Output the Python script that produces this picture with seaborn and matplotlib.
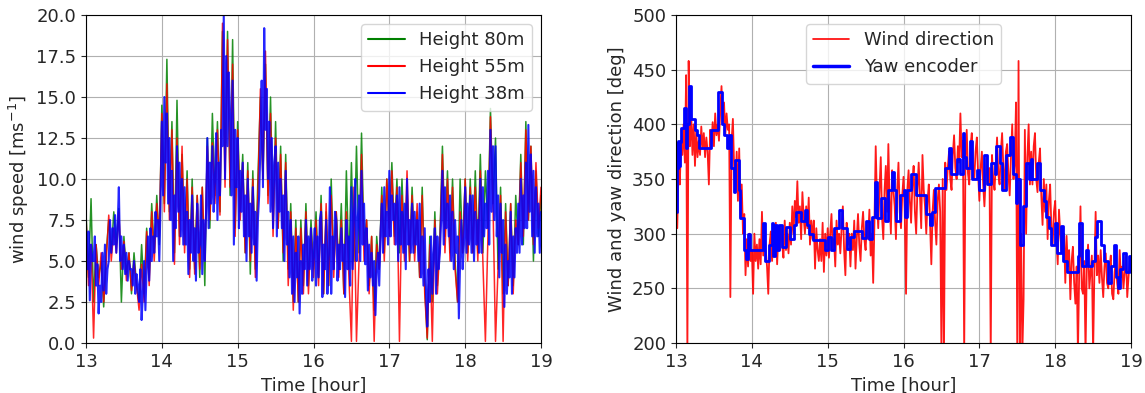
import numpy as np
import pandas as pd
import matplotlib
matplotlib.use("Agg")
import matplotlib.pyplot as plt
import seaborn as sns

# ---------------- data ----------------
# wind speed at 38 m, every minute from 13:00 to 19:00 (361 samples)
speed_38m = [
    7.0, 4.5, 6.8, 2.6, 6.0, 5.0,   5.0, 6.5, 3.5, 4.8, 1.8, 3.5,
    2.5, 5.5, 3.2, 6.0, 3.0, 4.5,   5.0, 7.5, 5.5, 7.0, 6.0, 7.8,
    5.5, 7.0, 9.5, 5.0, 6.5, 4.5,   6.0, 4.2, 5.5, 3.8, 5.0, 4.5,
    4.5, 3.5, 5.0, 3.0, 4.2, 3.5,   2.5, 4.5, 1.4, 3.0, 5.0, 2.0,
    4.5, 6.5, 3.8, 7.0, 5.0, 6.5,   5.5, 8.0, 6.5, 7.5, 5.0, 8.5,
    13.5, 9.0, 15.0, 11.0, 14.0, 8.5, 12.5, 7.5, 10.5, 5.0, 9.0, 7.0,
    12.0, 8.0, 11.0, 6.5, 10.0, 6.0, 9.5, 6.0, 8.0, 4.2, 7.5, 5.5,
    9.0, 5.0, 7.0, 3.8, 8.5, 5.5,   6.0, 9.0, 4.2, 7.5, 5.0, 8.0,
    12.5, 7.0, 11.0, 8.5, 12.0, 8.0, 10.0, 12.8, 7.5, 11.0, 9.0, 13.0,
    12.0, 20.0, 10.0, 17.5, 12.0, 16.5, 14.0, 9.0, 16.0, 6.0, 13.0, 9.5,
    12.5, 7.0, 10.5, 8.0, 11.0, 6.5, 9.0, 5.0, 10.0, 6.5, 8.5, 5.5,
    9.5, 6.0, 8.0, 3.8, 7.5, 9.0,   12.0, 16.0, 9.5, 19.2, 13.0, 15.5,
    10.0, 13.5, 8.0, 12.5, 7.0, 11.0, 12.0, 6.5, 11.0, 8.0, 10.0, 7.0,
    9.0, 5.0, 10.5, 6.0, 8.0, 4.0,  7.5, 3.0, 6.5, 2.5, 5.5, 4.0,
    6.5, 1.8, 5.0, 3.0, 6.0, 4.5,   7.5, 3.5, 6.5, 4.5, 7.0, 3.8,
    5.5, 7.0, 3.5, 6.5, 4.0, 7.5,   8.0, 2.8, 6.0, 4.5, 7.5, 3.0,
    5.5, 9.5, 3.0, 6.5, 4.5, 8.0,   7.5, 3.8, 6.0, 4.5, 7.0, 5.0,
    6.0, 2.8, 7.5, 4.5, 6.5, 3.5,   9.5, 4.5, 8.0, 10.0, 5.0, 7.5,
    9.0, 5.0, 10.5, 6.0, 8.5, 4.8,  7.0, 3.2, 6.0, 4.0, 5.5, 3.5,
    5.0, 1.7, 4.5, 5.5, 3.5, 6.5,   8.5, 5.5, 9.5, 6.5, 8.0, 6.0,
    10.5, 6.5, 9.0, 7.5, 8.5, 6.0,  9.0, 5.0, 9.5, 6.0, 8.0, 5.5,
    8.5, 4.5, 10.0, 6.0, 7.5, 5.5,  8.5, 5.5, 8.0, 6.0, 7.5, 5.0,
    8.5, 4.0, 6.5, 3.5, 7.0, 3.2,   1.0, 4.5, 2.5, 6.5, 3.0, 5.5,
    7.0, 3.0, 6.5, 4.5, 5.5, 7.5,   10.5, 6.0, 9.5, 7.0, 8.5, 6.5,
    9.0, 5.0, 8.0, 4.5, 7.5, 5.5,   6.5, 1.5, 5.0, 7.5, 4.5, 6.0,
    9.5, 5.5, 8.5, 6.0, 9.0, 5.5,   9.0, 5.0, 8.0, 6.0, 7.5, 5.5,
    10.0, 5.5, 9.5, 6.5, 8.5, 7.0,  10.5, 6.0, 13.0, 8.0, 12.0, 7.5,
    12.0, 6.5, 9.0, 4.0, 8.5, 5.5,  7.5, 2.2, 6.0, 3.0, 5.0, 4.0,
    8.0, 3.0, 6.5, 4.0, 7.0, 5.5,   8.5, 5.5, 10.0, 6.0, 9.0, 7.0,
    11.0, 7.0, 13.3, 8.0, 11.5, 6.5, 10.5, 5.5, 9.5, 6.5, 8.5, 5.5,
    8.0,
]
# wind speed at 55 m and 80 m, every 2 minutes (181 samples)
speed_55m = [
    7.8, 3.5, 6.0, 0.3, 6.0, 3.5, 5.5, 2.5, 5.0, 7.8, 5.0, 7.0, 5.5, 8.0, 4.5,
    6.2, 3.8, 5.5, 3.2, 5.0, 3.5, 2.0, 4.8, 2.5, 6.8, 3.5, 8.0, 5.0, 8.5, 6.5,
    14.0, 8.0, 15.8, 7.5, 13.0, 4.8, 12.5, 6.0, 12.0, 5.5, 10.0, 4.0, 9.5, 4.2, 9.0,
    4.5, 9.5, 5.0, 12.0, 7.5, 12.2, 8.5, 13.0, 7.8, 19.5, 9.5, 18.5, 9.5, 17.0, 6.5,
    13.0, 7.5, 11.0, 5.5, 10.5, 5.0, 10.0, 4.0, 9.0, 15.5, 10.0, 17.8, 8.5, 14.0, 6.5,
    12.5, 7.0, 11.5, 5.5, 11.0, 3.5, 8.0, 2.0, 7.0, 2.5, 7.0, 3.0, 8.0, 3.0, 7.0,
    4.0, 7.5, 3.5, 8.5, 3.0, 8.5, 3.5, 9.0, 4.0, 8.0, 4.0, 7.5, 3.0, 8.0, 4.0,
    0.1, 9.5, 0.1, 5.0, 11.5, 5.0, 7.5, 3.0, 6.5, 0.1, 6.0, 4.5, 9.0, 5.0, 10.0,
    6.5, 10.5, 6.0, 9.5, 0.1, 9.0, 5.0, 10.5, 5.0, 9.0, 5.0, 8.5, 4.0, 9.0, 3.0,
    0.3, 6.0, 0.1, 7.5, 3.0, 6.0, 11.5, 5.5, 10.0, 5.0, 9.5, 4.5, 2.5, 8.0, 5.5,
    10.0, 5.0, 9.5, 5.5, 9.5, 5.0, 10.5, 5.0, 0.1, 6.5, 13.8, 8.5, 0.1, 4.5, 9.0,
    0.1, 8.0, 3.5, 8.5, 3.0, 7.5, 6.0, 11.0, 6.5, 13.0, 7.5, 12.0, 6.0, 11.0, 7.0,
    9.5,
]
speed_80m = [
    8.0, 4.0, 8.8, 2.5, 6.0, 4.0, 5.0, 2.2, 5.5, 7.5, 5.5, 8.0, 6.0, 8.2, 2.5,
    6.5, 4.2, 5.5, 3.0, 5.5, 3.5, 2.5, 6.0, 3.0, 7.0, 4.0, 8.5, 5.5, 9.0, 6.0,
    14.5, 8.5, 17.3, 8.0, 13.5, 5.5, 14.8, 6.5, 11.5, 6.0, 10.5, 4.5, 10.0, 4.5, 9.0,
    4.0, 9.5, 3.5, 12.5, 7.0, 14.0, 9.0, 13.5, 8.0, 19.0, 10.5, 19.0, 9.0, 18.5, 7.0,
    13.5, 8.0, 11.5, 5.5, 11.0, 4.2, 10.5, 4.5, 10.0, 15.0, 10.0, 17.0, 9.0, 15.0, 7.0,
    13.5, 7.0, 12.0, 5.0, 11.5, 4.5, 8.5, 2.5, 7.5, 2.5, 7.5, 3.5, 8.5, 3.5, 7.5,
    4.5, 8.0, 4.0, 9.0, 3.0, 8.0, 3.5, 10.0, 4.5, 8.0, 4.5, 8.5, 3.0, 10.5, 4.5,
    11.0, 5.0, 12.0, 5.5, 12.8, 6.0, 7.5, 3.5, 6.5, 2.0, 6.5, 4.5, 9.5, 5.5, 10.0,
    7.0, 11.0, 6.5, 10.0, 5.5, 10.0, 5.5, 9.5, 5.0, 9.5, 5.5, 8.0, 4.0, 9.5, 3.5,
    0.2, 6.5, 2.5, 8.0, 3.5, 6.5, 12.0, 6.5, 10.5, 5.5, 10.0, 5.0, 2.5, 10.0, 5.5,
    10.0, 5.5, 10.0, 5.5, 10.5, 5.5, 11.5, 5.5, 10.5, 7.0, 14.3, 8.5, 12.5, 4.5, 9.5,
    3.0, 8.5, 3.5, 8.5, 3.5, 9.0, 6.0, 11.5, 6.0, 13.5, 7.5, 12.0, 5.0, 10.5, 6.5,
    9.0,
]

# wind direction, every minute from 13:00 to 19:00 (361 samples)
wind_dir = [
    330, 305, 360, 345, 385, 372,   400, 365, 445, 190, 458, 380,
    410, 372, 400, 362, 395, 370,   385, 372, 398, 378, 392, 370,
    388, 375, 345, 395, 380, 402,   380, 410, 390, 400, 385, 412,
    435, 400, 420, 390, 410, 395,   400, 242, 385, 405, 360, 338,
    375, 330, 378, 315, 345, 300,   318, 262, 295, 270, 300, 275,
    285, 245, 300, 275, 290, 268,   295, 272, 320, 280, 305, 285,
    270, 245, 290, 302, 275, 295,   280, 310, 272, 300, 285, 306,
    290, 278, 312, 285, 300, 282,   310, 290, 325, 300, 330, 315,
    348, 310, 325, 295, 338, 315,   300, 325, 305, 333, 290, 312,
    295, 312, 268, 305, 285, 275,   295, 275, 310, 265, 300, 280,
    305, 278, 300, 318, 285, 295,   270, 312, 290, 300, 282, 305,
    325, 285, 262, 310, 290, 300,   270, 300, 285, 312, 268, 295,
    318, 290, 275, 305, 320, 295,   285, 310, 295, 322, 280, 300,
    255, 310, 380, 330, 305, 340,   370, 315, 295, 340, 362, 320,
    382, 330, 300, 358, 340, 325,   295, 340, 365, 320, 305, 335,
    352, 320, 245, 340, 358, 330,   310, 345, 362, 320, 300, 340,
    365, 335, 305, 372, 340, 325,   300, 330, 345, 310, 272, 320,
    340, 310, 290, 330, 345, 320,   190, 350, 190, 365, 340, 360,
    375, 350, 340, 372, 390, 360,   350, 380, 365, 410, 370, 385,
    190, 370, 395, 355, 345, 380,   392, 360, 350, 375, 388, 355,
    330, 360, 375, 345, 325, 350,   370, 345, 360, 190, 372, 350,
    340, 365, 388, 355, 345, 375,   392, 360, 340, 375, 382, 355,
    335, 370, 400, 350, 365, 420,   190, 458, 190, 300, 190, 240,
    395, 300, 370, 400, 345, 375,   345, 380, 392, 350, 338, 365,
    378, 335, 308, 350, 320, 345,   295, 330, 345, 305, 290, 320,
    330, 295, 272, 322, 300, 285,   285, 300, 255, 298, 270, 285,
    240, 275, 288, 255, 236, 270,   190, 265, 325, 250, 245, 275,
    190, 270, 290, 250, 265, 280,   190, 265, 320, 262, 280, 255,
    285, 260, 242, 270, 282, 255,   250, 270, 280, 245, 240, 265,
    275, 255, 245, 285, 260, 270,   250, 265, 280, 242, 260, 275,
    265,
]

# yaw encoder: step changes (hour, degrees)
yaw_time = [
    13.00, 13.01, 13.02, 13.03, 13.04, 13.05, 13.06, 13.10, 13.13, 13.15,
    13.17, 13.20, 13.25, 13.28, 13.30, 13.46, 13.56, 13.60, 13.63, 13.67,
    13.70, 13.72, 13.76, 13.78, 13.83, 13.85, 13.90, 13.92, 13.95, 13.98,
    14.15, 14.17, 14.22, 14.26, 14.28, 14.30, 14.33, 14.36, 14.40, 14.45,
    14.50, 14.55, 14.58, 14.65, 14.70, 14.73, 14.76, 14.80, 14.97, 15.00,
    15.05, 15.08, 15.15, 15.19, 15.25, 15.30, 15.35, 15.45, 15.50, 15.55,
    15.58, 15.62, 15.65, 15.70, 15.76, 15.80, 15.85, 15.88, 15.90, 15.95,
    16.00, 16.02, 16.05, 16.10, 16.17, 16.30, 16.35, 16.38, 16.42, 16.55,
    16.60, 16.62, 16.70, 16.75, 16.78, 16.80, 16.83, 16.88, 16.90, 16.97,
    17.00, 17.06, 17.10, 17.15, 17.20, 17.22, 17.27, 17.30, 17.35, 17.40,
    17.45, 17.48, 17.50, 17.54, 17.58, 17.62, 17.65, 17.68, 17.70, 17.76,
    17.80, 17.85, 17.88, 17.92, 17.95, 18.00, 18.03, 18.07, 18.10, 18.15,
    18.30, 18.32, 18.36, 18.40, 18.43, 18.48, 18.52, 18.55, 18.60, 18.65,
    18.70, 18.73, 18.77, 18.80, 18.83, 18.85, 18.90, 18.93, 18.97, 19.00,
]
yaw_deg = [
    320, 383, 360, 385, 362, 384, 397, 415, 378, 400,
    435, 405, 395, 390, 378, 395, 430, 400, 390, 378,
    390, 360, 338, 367, 340, 314, 285, 277, 300, 285,
    310, 275, 290, 310, 280, 308, 285, 308, 288, 306,
    295, 308, 320, 312, 322, 308, 300, 294, 285, 297,
    285, 305, 322, 305, 286, 297, 302, 296, 312, 295,
    315, 347, 314, 333, 312, 340, 356, 340, 312, 335,
    340, 315, 340, 355, 335, 318, 308, 320, 342, 360,
    378, 355, 368, 355, 392, 370, 360, 385, 350, 358,
    340, 372, 345, 365, 355, 380, 365, 340, 372, 388,
    355, 328, 350, 290, 325, 365, 350, 368, 350, 365,
    340, 330, 315, 305, 290, 310, 282, 307, 275, 265,
    280, 310, 270, 285, 270, 275, 297, 312, 290, 275,
    255, 270, 290, 260, 250, 268, 282, 265, 280, 265,
]

speed_labels = ["Height 80m", "Height 55m", "Height 38m"]
dir_labels = ["Wind direction", "Yaw encoder"]

# ---------------- plotting ----------------
sns.set_style("white")
plt.rcParams["font.family"] = ["DejaVu Sans"]
FS = 13

fig = plt.figure(figsize=(11.45, 3.93), dpi=100)
ax1 = fig.add_axes([0.0751, 0.1272, 0.3974, 0.8346])
ax2 = fig.add_axes([0.5904, 0.1272, 0.3974, 0.8346])

speed_series = [speed_80m, speed_55m, speed_38m]
speed_colors = ["#008000", "#ff0000", "#0000ff"]
speed_lw = [1.1, 1.1, 1.5]
for vals, col, lw, lab in zip(speed_series, speed_colors, speed_lw, speed_labels):
    hrs = np.linspace(13, 19, len(vals))
    sns.lineplot(x=hrs, y=vals, ax=ax1, color=col, lw=lw, alpha=0.85,
                 label=lab, estimator=None, sort=False)

ax1.set_xlim(13, 19)
ax1.set_ylim(0, 20)
yt = np.arange(0, 20.1, 2.5)
ax1.set_yticks(yt)
ax1.set_yticklabels([f"{v:.1f}" for v in yt])
ax1.set_xlabel("Time [hour]", fontsize=FS)
ax1.set_ylabel("wind speed [ms$^{-1}$]", fontsize=FS)
ax1.grid(True, color="#b0b0b0", lw=0.8)
leg1 = ax1.legend(loc="upper right", fontsize=FS, framealpha=0.8)
for ln in leg1.get_lines():
    ln.set_linewidth(1.5)
    ln.set_alpha(1)

hours_dir = np.linspace(13, 19, len(wind_dir))
sns.lineplot(x=hours_dir, y=wind_dir, ax=ax2, color="#ff0000", lw=1.3,
             alpha=0.9, label=dir_labels[0], estimator=None, sort=False)
sns.lineplot(x=yaw_time, y=yaw_deg, ax=ax2, color="#0000ff", lw=2.0,
             label=dir_labels[1], estimator=None, sort=False,
             drawstyle="steps-post")
ax2.set_xlim(13, 19)
ax2.set_ylim(200, 500)
ax2.set_xlabel("Time [hour]", fontsize=FS)
ax2.set_ylabel("Wind and yaw direction [deg]", fontsize=FS)
ax2.grid(True, color="#b0b0b0", lw=0.8)
leg2 = ax2.legend(loc="upper center", fontsize=FS, framealpha=0.8)
for ln, w in zip(leg2.get_lines(), [1.2, 2.5]):
    ln.set_alpha(1)
    ln.set_linewidth(w)

for ax in (ax1, ax2):
    ax.tick_params(labelsize=FS, length=3.5, width=0.8, bottom=True, left=True)
    ax.set_xticks(range(13, 20))
    for s in ax.spines.values():
        s.set_color("black")
        s.set_linewidth(0.8)

fig.savefig("out.png", dpi=100)
